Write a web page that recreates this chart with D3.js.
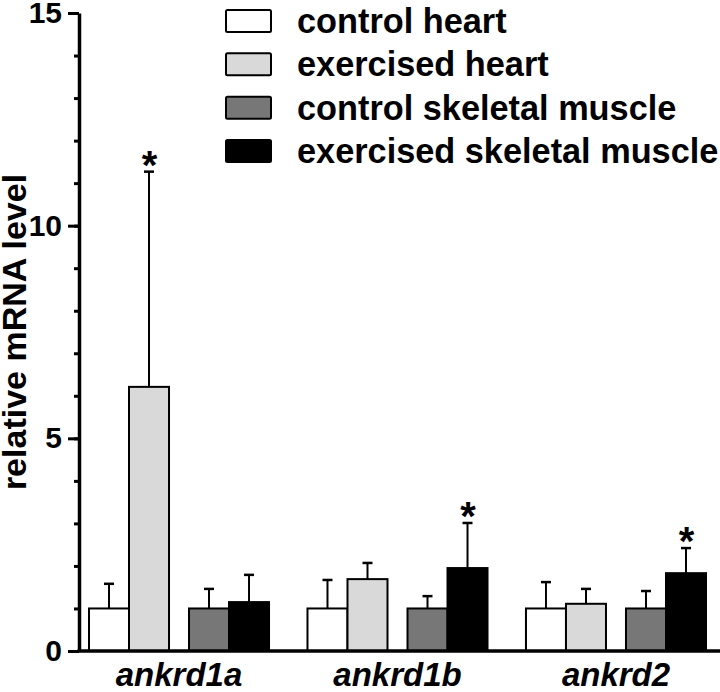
<!DOCTYPE html>
<html>
<head>
<meta charset="utf-8">
<script src="https://cdn.jsdelivr.net/npm/d3@7"></script>
<style>
  html, body { margin: 0; padding: 0; background: #fff; }
  svg { display: block; font-family: "Liberation Sans", Arial, sans-serif; }
</style>
</head>
<body>
<svg id="chart" width="720" height="692"></svg>
<script>
// ---- data ----
const genes = ["ankrd1a", "ankrd1b", "ankrd2"];
const seriesNames = ["control heart", "exercised heart", "control skeletal muscle", "exercised skeletal muscle"];
const seriesTissue = ["heart", "heart", "skeletal", "skeletal"];
const seriesCondition = ["control", "exercised", "control", "exercised"];
const seriesFill = ["#ffffff", "#d9d9d9", "#777777", "#000000"];

const controlHeart = [1.0, 1.0, 1.0];
const exercisedHeart = [6.21, 1.69, 1.11];
const controlSkeletal = [1.0, 1.0, 1.0];
const exercisedSkeletal = [1.15, 1.95, 1.83];

const controlHeartErr = [0.58, 0.67, 0.62];
const exercisedHeartErr = [5.06, 0.38, 0.35];
const controlSkeletalErr = [0.46, 0.29, 0.41];
const exercisedSkeletalErr = [0.64, 1.06, 0.59];

const exercisedHeartSig = [true, false, false];
const exercisedSkeletalSig = [false, true, true];

const yMajorTicks = [0, 5, 10, 15];
const yMinorTicks = [0,1,2,3,4,5,6,7,8,9,10,11,12,13,14,15];
const yTitle = "relative mRNA level";

// ---- assemble ----
const seriesValues = [controlHeart, exercisedHeart, controlSkeletal, exercisedSkeletal];
const seriesErr = [controlHeartErr, exercisedHeartErr, controlSkeletalErr, exercisedSkeletalErr];
const seriesSig = [genes.map(() => false), exercisedHeartSig, genes.map(() => false), exercisedSkeletalSig];

const records = [];
genes.forEach((g, gi) => {
  seriesNames.forEach((s, si) => {
    records.push({
      gene: g, series: si,
      tissue: seriesTissue[si], condition: seriesCondition[si],
      value: seriesValues[si][gi], err: seriesErr[si][gi], sig: seriesSig[si][gi]
    });
  });
});

const svg = d3.select("#chart");
const axisX = 79, axisBottom = 651, axisTop = 13;

const y = d3.scaleLinear().domain([0, 15]).range([axisBottom, axisTop]);
const x0 = d3.scaleBand().domain(genes).range([89, 706]).paddingInner(0.176).paddingOuter(0);
const x1 = d3.scaleBand().domain(["heart", "skeletal"]).range([0, x0.bandwidth()]).paddingInner(0.2).paddingOuter(0);
const x2 = d3.scaleBand().domain(["control", "exercised"]).range([0, x1.bandwidth()]).padding(0);

const barX = d => x0(d.gene) + x1(d.tissue) + x2(d.condition);
const barCx = d => barX(d) + x2.bandwidth() / 2;

// error bars (drawn first, under bars)
const eb = svg.append("g").attr("class", "errorbars");
eb.selectAll("line.whisker").data(records).join("line")
  .attr("x1", barCx).attr("x2", barCx)
  .attr("y1", d => y(d.value)).attr("y2", d => y(d.value + d.err))
  .attr("stroke", "#000").attr("stroke-width", 2);
eb.selectAll("line.cap").data(records).join("line")
  .attr("x1", d => barCx(d) - 5).attr("x2", d => barCx(d) + 5)
  .attr("y1", d => y(d.value + d.err)).attr("y2", d => y(d.value + d.err))
  .attr("stroke", "#000").attr("stroke-width", 2.5);

// bars
svg.append("g").attr("class", "bars")
  .selectAll("rect").data(records).join("rect")
  .attr("x", barX)
  .attr("y", d => y(d.value))
  .attr("width", x2.bandwidth())
  .attr("height", d => y(0) - y(d.value))
  .attr("fill", d => seriesFill[d.series])
  .attr("stroke", "#000").attr("stroke-width", 2);

// significance asterisks
svg.append("g").attr("class", "sig")
  .selectAll("text").data(records.filter(d => d.sig)).join("text")
  .attr("x", d => barCx(d) + 0.5)
  .attr("y", d => y(d.value + d.err) + 7)
  .attr("text-anchor", "middle")
  .attr("font-size", 40).attr("font-weight", "bold")
  .text("*");

// y axis: minor ticks
const yMinor = svg.append("g").attr("transform", `translate(${axisX},0)`)
  .call(d3.axisLeft(y).tickValues(yMinorTicks).tickSize(5).tickSizeOuter(0).tickFormat(""));
yMinor.select(".domain").remove();
yMinor.selectAll(".tick line").attr("stroke", "#000").attr("stroke-width", 3);

// y axis: major ticks + labels
const yAxis = svg.append("g").attr("transform", `translate(${axisX},0)`)
  .call(d3.axisLeft(y).tickValues(yMajorTicks).tickSize(11).tickSizeOuter(0).tickPadding(6).tickFormat(d3.format("d")));
yAxis.select(".domain").attr("stroke", "#000").attr("stroke-width", 3.5);
yAxis.selectAll(".tick line").attr("stroke", "#000").attr("stroke-width", 3);
yAxis.selectAll(".tick text")
  .attr("font-family", "'Liberation Sans', Arial, sans-serif")
  .attr("font-size", 30).attr("font-weight", "bold").attr("fill", "#000");

// x axis baseline
const xAxis = svg.append("g").attr("transform", `translate(0,${axisBottom})`)
  .call(d3.axisBottom(x0).tickSize(0).tickPadding(14));
xAxis.select(".domain").attr("d", `M${axisX - 1.5},0H720`).attr("stroke", "#000").attr("stroke-width", 3.5);
xAxis.selectAll(".tick text")
  .attr("font-family", "'Liberation Sans', Arial, sans-serif")
  .attr("font-size", 33).attr("font-weight", "bold").attr("font-style", "italic")
  .attr("fill", "#000").attr("dy", "0.71em").attr("y", 12);

// y title
svg.append("text")
  .attr("transform", `translate(26,332) rotate(-90)`)
  .attr("text-anchor", "middle")
  .attr("font-size", 34).attr("font-weight", "bold")
  .text(yTitle);

// legend
const legendY = d3.scalePoint().domain(seriesNames).range([21, 151]);
const lg = svg.append("g").attr("class", "legend");
const items = lg.selectAll("g").data(seriesNames).join("g")
  .attr("transform", d => `translate(0,${legendY(d)})`);
items.append("rect")
  .attr("x", 226).attr("y", -11).attr("width", 45).attr("height", 22)
  .attr("rx", 1.5)
  .attr("fill", (d, i) => seriesFill[i])
  .attr("stroke", "#000").attr("stroke-width", 2);
items.append("text")
  .attr("x", 297).attr("y", 12)
  .attr("font-size", 34.3).attr("font-weight", "bold")
  .text(d => d);
</script>
</body>
</html>
